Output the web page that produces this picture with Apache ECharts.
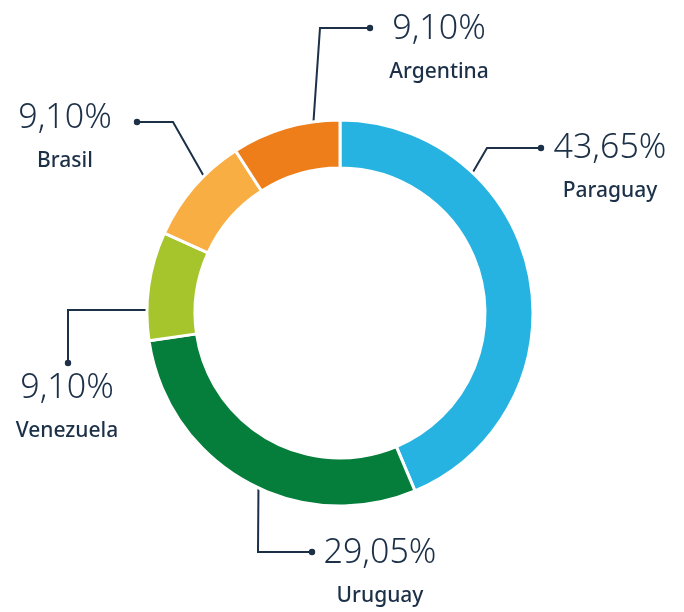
<!DOCTYPE html>
<html>
<head>
<meta charset="utf-8">
<script src="https://cdn.jsdelivr.net/npm/echarts@6/dist/echarts.min.js"></script>
<style>
  html, body { margin: 0; padding: 0; background: #fff; }
  #chart { width: 684px; height: 612px; }
</style>
</head>
<body>
<div id="chart"></div>
<script>
const countries = ['Paraguay', 'Uruguay', 'Venezuela', 'Brasil', 'Argentina']
const shares = [43.65, 29.05, 9.10, 9.10, 9.10]

const sliceColors = ['#27b3e1', '#047e3a', '#a6c52d', '#f8ae43', '#ee7e1a']
const ink = '#1c3048'

// pie geometry (px)
const cx = 340
const cy = 313
const rIn = 145
const rOut = 193

// leader lines: start angle on the ring (deg, clockwise from top), elbow, dot, text anchor
const leaders = {
  Paraguay: { angle: 43.5, elbow: [487, 148], dot: [541, 148], text: [610, 148] },
  Uruguay: { angle: 205.2, elbow: [258, 552], dot: [312, 552], text: [380, 553] },
  Venezuela: { angle: 270.9, elbow: [68, 310], dot: [68, 363], text: [67, 388] },
  Brasil: { angle: 315, elbow: [173, 122], dot: [137, 122], text: [65, 118] },
  Argentina: { angle: 352, elbow: [320, 28], dot: [370, 28], text: [439, 29] },
}

function ringPoint(deg) {
  const a = (deg * Math.PI) / 180
  return [cx + (rOut - 1.5) * Math.sin(a), cy - (rOut - 1.5) * Math.cos(a)]
}

const chart = echarts.init(document.getElementById('chart'))

const option = {
  animation: false,
  graphic: countries.map((name) => ({
    type: 'circle',
    shape: { cx: leaders[name].dot[0], cy: leaders[name].dot[1], r: 3.2 },
    style: { fill: ink },
    z: 10,
  })),
  series: [
    {
      type: 'pie',
      center: [cx, cy],
      radius: [rIn, rOut],
      startAngle: 90,
      clockwise: true,
      avoidLabelOverlap: false,
      itemStyle: { borderColor: '#fff', borderWidth: 3 },
      data: countries.map((name, i) => ({
        name,
        value: shares[i],
        itemStyle: { color: sliceColors[i] },
      })),
      label: {
        show: true,
        position: 'outside',
        formatter: (p) => '{p|' + p.value.toFixed(2).replace('.', ',') + '%}\n{n|' + p.name + '}',
        rich: {
          p: { fontFamily: 'Noto Sans', fontWeight: 300, fontSize: 34, lineHeight: 38, color: ink, align: 'center' },
          n: { fontFamily: 'Noto Sans', fontWeight: 500, fontSize: 21, lineHeight: 48, color: ink, align: 'center' },
        },
      },
      labelLine: {
        show: true,
        lineStyle: { color: ink, width: 2 },
      },
      labelLayout: (params) => {
        const name = countries[params.dataIndex]
        const l = leaders[name]
        return {
          x: l.text[0],
          y: l.text[1] - 19,
          align: 'center',
          verticalAlign: 'top',
          labelLinePoints: [ringPoint(l.angle), l.elbow, l.dot],
        }
      },
    },
  ],
}

chart.setOption(option)
window.addEventListener('resize', () => chart.resize())
</script>
</body>
</html>
